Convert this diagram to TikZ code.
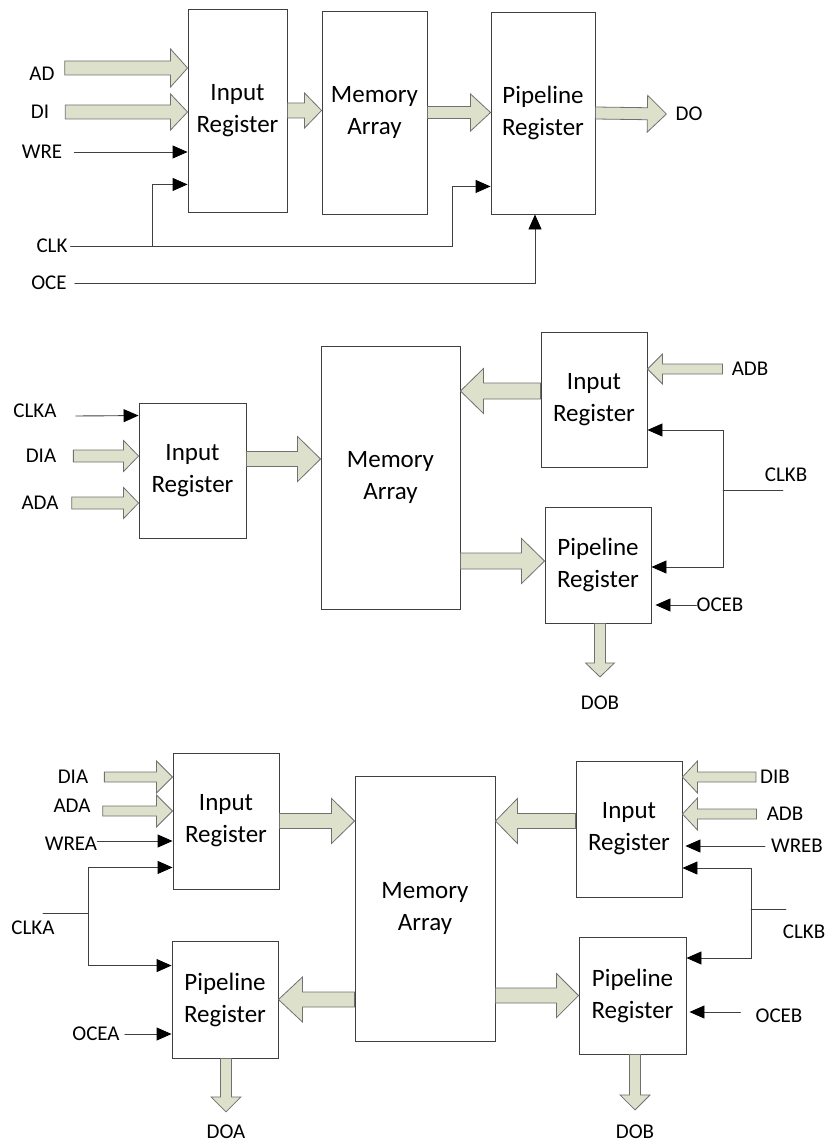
\documentclass[tikz,border=0pt]{standalone}
\usepackage{fontspec}
\setmainfont{Carlito}
\usetikzlibrary{calc,arrows.meta}
\definecolor{busfill}{RGB}{221,224,203}
\definecolor{busedge}{RGB}{112,112,112}
\definecolor{wirecol}{RGB}{64,64,64}
\tikzset{
  reg/.style 2 args={draw=wirecol, line width=0.9pt, minimum width=#1pt, minimum height=#2pt,
    inner sep=0pt, align=center, font=\fontsize{25}{32}\selectfont},
  lbl/.style={inner sep=0pt, font=\fontsize{21}{25}\selectfont},
  sig/.style={draw=wirecol, line width=0.9pt, -{Triangle[length=15pt,width=13pt,color=black]}},
  wire/.style={draw=wirecol, line width=0.9pt},
  bus/.style={draw=busedge, fill=busfill, line width=0.8pt, line join=miter},
}
% fat bus arrow: tail, tip, shaft half width, head half width, head length
\newcommand{\busarrow}[5]{%
  \path (#1) coordinate (bA) (#2) coordinate (bB);
  \coordinate (bH) at ($(bB)!#5!(bA)$);
  \filldraw[bus] ($(bA)!#3!90:(bB)$) -- ($(bH)!#3!-90:(bA)$) -- ($(bH)!#4!-90:(bA)$) -- (bB)
    -- ($(bH)!#4!90:(bA)$) -- ($(bH)!#3!90:(bA)$) -- ($(bA)!#3!-90:(bB)$) -- cycle;}

\begin{document}
\begin{tikzpicture}[x=1pt, y=-1pt, line cap=round]
	\useasboundingbox (0,0) rectangle (827,1142);
	% single port
	\node[reg={99}{203}] (in1) at (237.5,110.5) {Input\\Register};
	\node[reg={105}{203}] (mem1) at (374.5,112.5) {Memory\\Array};
	\node[reg={104}{202}] (pip1) at (543,113) {Pipeline\\Register};
	\node[lbl] (ad) at (42,74) {AD};
	\node[lbl] (di) at (40,112) {DI};
	\node[lbl] (wre) at (42,152) {WRE};
	\node[lbl] (clk) at (52,246) {CLK};
	\node[lbl] (oce) at (49,283) {OCE};
	\node[lbl] (do) at (689,114) {DO};
	\coordinate (clkJ) at (152,246);
	\busarrow{[shift={(10pt,6pt)}]ad.east}{[yshift=42.5pt]in1.west}{7pt}{19pt}{17pt}
	\busarrow{[xshift=16pt]di.east}{di -| in1.west}{7pt}{18pt}{17pt}
	\busarrow{in1.east}{in1.east -| mem1.west}{7.5pt}{17.5pt}{17pt}
	\busarrow{mem1.east}{mem1.east -| pip1.west}{6pt}{18.5pt}{20pt}
	\busarrow{pip1.east}{[xshift=-9pt]do.west}{6pt}{18.5pt}{19pt}
	\draw[sig] ([xshift=12pt]wre.east) -- (wre -| in1.west);
	\draw[sig] ([xshift=3pt]clk.east) -| ($(pip1.south west)+(-38pt,28pt)$) -- ([yshift=28pt]pip1.south west);
	\draw[sig] (clkJ) |- ([yshift=28pt]in1.south west);
	\draw[sig] ([xshift=8pt]oce.east) -| ([xshift=-8pt]pip1.south);
	% one write port, one read port
	\node[reg={107}{135}] (inA2) at (192.5,470.5) {Input\\Register};
	\node[reg={139}{263}] (mem2) at (390.5,477.5) {Memory\\Array};
	\node[reg={106}{135}] (inB2) at (594,399.5) {Input\\Register};
	\node[reg={106}{116}] (pipB2) at (598,565) {Pipeline\\Register};
	\node[lbl] (clka2) at (35,411) {CLKA};
	\node[lbl] (dia2) at (41,456) {DIA};
	\node[lbl] (ada2) at (40,503) {ADA};
	\node[lbl] (adb2) at (750,369) {ADB};
	\node[lbl] (clkb2) at (786,475) {CLKB};
	\node[lbl] (oceb2) at (720,605) {OCEB};
	\node[lbl] (dob2) at (600,703) {DOB};
	\coordinate (clkb2S) at (783,490);
	\coordinate (clkb2J) at (723,490);
	\busarrow{[xshift=17pt]dia2.east}{dia2 -| inA2.west}{6pt}{15.5pt}{15pt}
	\busarrow{[xshift=13pt]ada2.east}{ada2 -| inA2.west}{6pt}{15.5pt}{15pt}
	\busarrow{[yshift=11.5pt]inA2.east}{[yshift=18.5pt]mem2.west}{7.5pt}{22.5pt}{23pt}
	\busarrow{[yshift=8.5pt]inB2.west}{[yshift=86.5pt]mem2.east}{8pt}{22.5pt}{23pt}
	\busarrow{[xshift=-9pt]adb2.west}{adb2 -| inB2.east}{5pt}{15pt}{15pt}
	\busarrow{[yshift=-83.5pt]mem2.east}{[yshift=4pt]pipB2.west}{8pt}{22.5pt}{23pt}
	\busarrow{pipB2.south -| dob2}{[yshift=19pt]dob2.north}{5.5pt}{14.5pt}{14pt}
	\draw[sig] ([shift={(19pt,-5pt)}]clka2.east) -- ([yshift=-13pt]inA2.north west);
	\draw[wire] (clkb2S) -- (clkb2J);
	\draw[sig] (clkb2J) |- ([yshift=-30.5pt]inB2.east);
	\draw[sig] (clkb2J) |- ([yshift=-2pt]pipB2.east);
	\draw[sig, shorten >=4pt] (oceb2.west) -- (oceb2 -| pipB2.east);
	% two read/write ports
	\node[reg={106}{136}] (inA3) at (226,821) {Input\\Register};
	\node[reg={106}{117}] (pipA3) at (225,999.5) {Pipeline\\Register};
	\node[reg={140}{265}] (mem3) at (425,908.5) {Memory\\Array};
	\node[reg={106}{136}] (inB3) at (629,829) {Input\\Register};
	\node[reg={107}{117}] (pipB3) at (632.5,995.5) {Pipeline\\Register};
	\node[lbl] (dia3) at (73,777) {DIA};
	\node[lbl] (ada3) at (72,806) {ADA};
	\node[lbl] (wrea3) at (71,844) {WREA};
	\node[lbl] (clka3) at (33,928) {CLKA};
	\node[lbl] (ocea3) at (96,1034) {OCEA};
	\node[lbl] (doa3) at (226,1132) {DOA};
	\node[lbl] (dib3) at (775,777) {DIB};
	\node[lbl] (adb3) at (785,814) {ADB};
	\node[lbl] (wreb3) at (797,846) {WREB};
	\node[lbl] (clkb3) at (804,932) {CLKB};
	\node[lbl] (oceb3) at (779,1016) {OCEB};
	\node[lbl] (dob3) at (635,1132) {DOB};
	\coordinate (clka3S) at (43,913);
	\coordinate (clka3J) at (88,913);
	\coordinate (clkb3S) at (786,909);
	\coordinate (clkb3J) at (751,909);
	\busarrow{[xshift=16pt]dia3.east}{dia3 -| inA3.west}{5pt}{16pt}{16pt}
	\busarrow{[shift={(12pt,-5pt)}]ada3.east}{[yshift=10pt]inA3.west}{5pt}{16pt}{16pt}
	\busarrow{inA3.east}{inA3.east -| mem3.west}{7.5pt}{22.5pt}{23pt}
	\busarrow{pipA3.east -| mem3.west}{pipA3.east}{7.5pt}{22.5pt}{24pt}
	\busarrow{[yshift=8pt]inB3.west}{[yshift=87.5pt]mem3.east}{7.5pt}{22.5pt}{22pt}
	\busarrow{pipB3.west -| mem3.east}{pipB3.west}{7.5pt}{22pt}{22pt}
	\busarrow{[xshift=-4pt]dib3.west}{dib3 -| inB3.east}{5pt}{16pt}{15pt}
	\busarrow{[xshift=-10pt]adb3.west}{adb3 -| inB3.east}{5pt}{16pt}{15pt}
	\busarrow{pipA3.south -| doa3}{[yshift=13pt]doa3.north}{5.5pt}{15pt}{15pt}
	\busarrow{pipB3.south -| dob3}{[yshift=15pt]dob3.north}{5.5pt}{15pt}{15pt}
	\draw[sig] ([yshift=3pt]wrea3.east) -- ([yshift=-20pt]inA3.west);
	\draw[wire] (clka3S) -- (clka3J);
	\draw[sig] (clka3J) |- ([yshift=22pt]inA3.south west);
	\draw[sig] (clka3J) |- ([yshift=-25pt]pipA3.north west);
	\draw[sig] ([xshift=5pt]ocea3.east) -- (ocea3 -| pipA3.west);
	\draw[sig, shorten >=3pt] ([xshift=-6pt]wreb3.west) -- (wreb3 -| inB3.east);
	\draw[wire] (clkb3S) -- (clkb3J);
	\draw[sig] (clkb3J) |- ([yshift=-39pt]inB3.east);
	\draw[sig] (clkb3J) |- ([yshift=37.5pt]pipB3.east);
	\draw[sig, shorten >=3pt] ([shift={(-15pt,4pt)}]oceb3.west) -- ([yshift=-16.5pt]pipB3.east);
\end{tikzpicture}
\end{document}
